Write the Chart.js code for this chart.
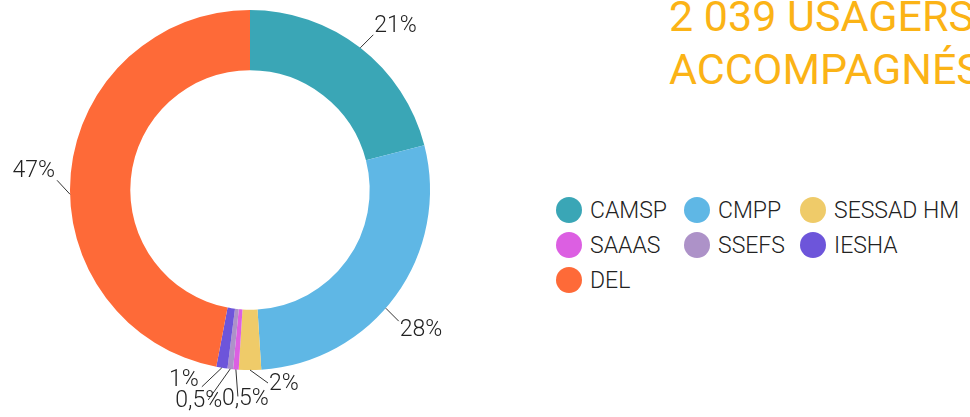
<!DOCTYPE html>
<html>
<head>
<meta charset="utf-8">
<script src="https://cdn.jsdelivr.net/npm/chart.js@4.4.1/dist/chart.umd.min.js"></script>
<style>
    html, body { margin: 0; padding: 0; background: #fff; overflow: hidden; }
    #wrap { position: relative; width: 970px; height: 417px; overflow: hidden; }
    #chartBox { position: absolute; left: 0; top: 0; width: 500px; height: 417px; }
    #title {
        position: absolute; left: 669px; top: -10px; white-space: nowrap;
        font-family: Roboto, sans-serif; font-weight: 400; font-size: 43px;
        line-height: 53px; color: #fbb316;
    }
    #legend {
        position: absolute; left: 556px; top: 196px;
        display: grid; grid-template-columns: 128px 116px 200px; grid-auto-rows: 35px;
        font-family: Roboto, sans-serif; font-weight: 300; font-size: 23px; color: #222;
    }
    .item { display: flex; align-items: center; height: 28px; white-space: nowrap; }
    .dot { width: 26px; height: 26px; border-radius: 50%; margin-right: 8px; flex: none; }
</style>
</head>
<body>
<div id="wrap">
    <div id="chartBox"><canvas id="donut"></canvas></div>
    <div id="title">2 039 USAGERS<br>ACCOMPAGNÉS</div>
    <div id="legend"></div>
</div>
<script>
// données
const categories = ['CAMSP', 'CMPP', 'SESSAD HM', 'SAAAS', 'SSEFS', 'IESHA', 'DEL'];
const values = [21, 28, 2, 0.5, 0.5, 1, 47];
const valueLabels = ['21%', '28%', '2%', '0,5%', '0,5%', '1%', '47%'];
const colors = ['#3aa6b6', '#5fb7e5', '#efcb69', '#dc5fe2', '#ad92c8', '#6d55da', '#fe6a38'];

// position des étiquettes (fraction de l'arc, fin du trait, texte)
const labelFrac = [0.5, 0.55, 0.5, 0.5, 0.5, 0.5, 0.46];
const lineEnd = [[13, -13], [13, 13], [18, 13], [2, 27], [-22, 31], [-20, 19], [-13, -14]];
const textPos = [[14, -22, 'left'], [14, 22, 'left'], [19, 14, 'left'], [-14, 30, 'left'], [-8, 32, 'right'], [-23, 12, 'right'], [-15, -23, 'right']];

// étiquettes avec traits de rappel
const leaderLabels = {
    id: 'leaderLabels',
    afterDatasetsDraw(chart) {
        const ctx = chart.ctx;
        const arcs = chart.getDatasetMeta(0).data;
        ctx.save();
        ctx.strokeStyle = '#333';
        ctx.lineWidth = 1;
        ctx.fillStyle = '#222';
        ctx.font = '300 23px Roboto, sans-serif';
        ctx.textBaseline = 'middle';
        arcs.forEach((arc, i) => {
            const p = arc.getProps(['x', 'y', 'startAngle', 'endAngle', 'outerRadius']);
            const a = p.startAngle + (p.endAngle - p.startAngle) * labelFrac[i];
            const ax = p.x + Math.cos(a) * p.outerRadius;
            const ay = p.y + Math.sin(a) * p.outerRadius;
            ctx.beginPath();
            ctx.moveTo(ax, ay);
            ctx.lineTo(ax + lineEnd[i][0], ay + lineEnd[i][1]);
            ctx.stroke();
            ctx.textAlign = textPos[i][2];
            ctx.fillText(valueLabels[i], ax + textPos[i][0], ay + textPos[i][1]);
        });
        ctx.restore();
    }
};

const chart = new Chart(document.getElementById('donut'), {
    type: 'doughnut',
    data: {
        labels: categories,
        datasets: [{
            data: values,
            backgroundColor: colors,
            borderWidth: 0
        }]
    },
    options: {
        responsive: true,
        maintainAspectRatio: false,
        animation: false,
        cutout: '66.5%',
        layout: { padding: { left: 70, right: 70, top: 10, bottom: 47 } },
        plugins: {
            legend: { display: false },
            tooltip: { enabled: false }
        }
    },
    plugins: [leaderLabels]
});

// légende HTML
const legendEl = document.getElementById('legend');
categories.forEach((name, i) => {
    const item = document.createElement('div');
    item.className = 'item';
    item.innerHTML = '<span class="dot" style="background:' + colors[i] + '"></span>' + name;
    legendEl.appendChild(item);
});
</script>
</body>
</html>
